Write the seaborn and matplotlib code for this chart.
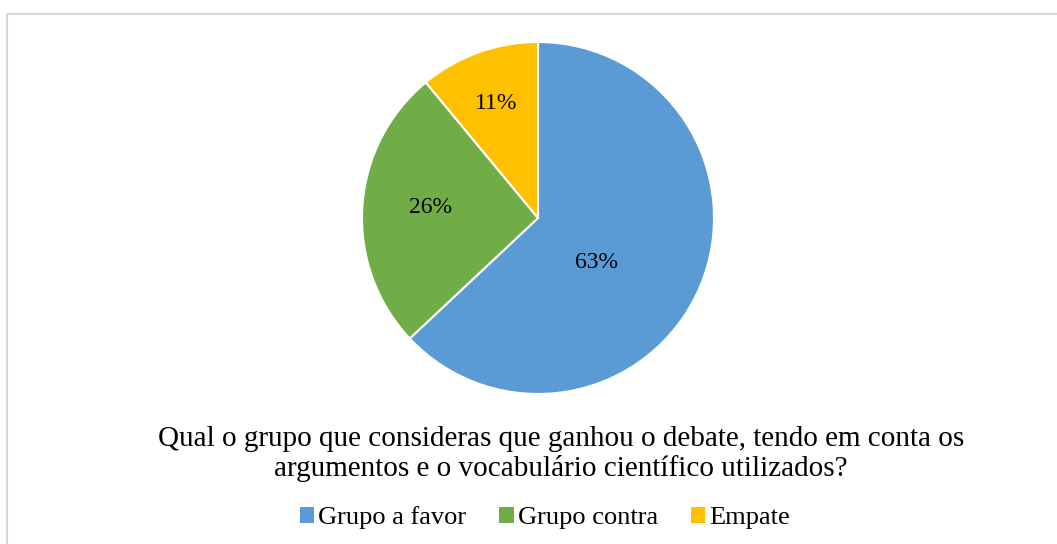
import matplotlib
matplotlib.use("Agg")
import matplotlib.pyplot as plt
import seaborn as sns
from matplotlib.patches import Rectangle, Patch

categories = ["Grupo a favor", "Grupo contra", "Empate"]
percentages = [63, 26, 11]
title_text = ("Qual o grupo que consideras que ganhou o debate, tendo em conta os\n"
              "argumentos e o vocabulário científico utilizados?")

sns.set_style("white")
plt.rcParams["font.family"] = ["Liberation Serif", "DejaVu Serif"]
plt.rcParams["text.color"] = "black"

colors = ["#5B9BD5", "#70AD47", "#FFC000"]

W, H = 1057, 544
fig = plt.figure(figsize=(W / 100, H / 100), dpi=100)

# light frame around the chart area
fig.patches.append(Rectangle((7 / W, -0.1), 1.2, (H - 14) / H + 0.1,
                             transform=fig.transFigure, fill=False,
                             edgecolor="#D9D9D9", linewidth=1.5))

cx, cy, r = 538, 218, 176
ax = fig.add_axes([(cx - r) / W, (H - cy - r) / H, 2 * r / W, 2 * r / H])
wedges, texts, autotexts = ax.pie(
    percentages, colors=colors, startangle=90, counterclock=False,
    autopct=lambda p: f"{p:.0f}%", pctdistance=0.65,
    wedgeprops=dict(edgecolor="white", linewidth=1.5),
    textprops=dict(fontsize=17, color="black"))
ax.set_xlim(-1, 1)
ax.set_ylim(-1, 1)
ax.set_aspect("equal")
ax.axis("off")

# label placement inside the slices
label_pos = [(0.335, -0.25), (-0.608, 0.057), (-0.239, 0.653)]
for t, pos in zip(autotexts, label_pos):
    t.set_position(pos)

fig.text(561 / W, 1 - 454 / H, title_text, ha="center", va="center",
         fontsize=21, linespacing=1.15, color="black")

handles = [Patch(facecolor=c, edgecolor="none") for c in colors]
fig.legend(handles, categories, loc="center", bbox_to_anchor=(545 / W, 1 - 518 / H),
           ncol=3, frameon=False, fontsize=19, handlelength=0.55,
           handleheight=0.55, handletextpad=0.15, columnspacing=1.25,
           labelcolor="black")

fig.savefig("out.png", dpi=100)
